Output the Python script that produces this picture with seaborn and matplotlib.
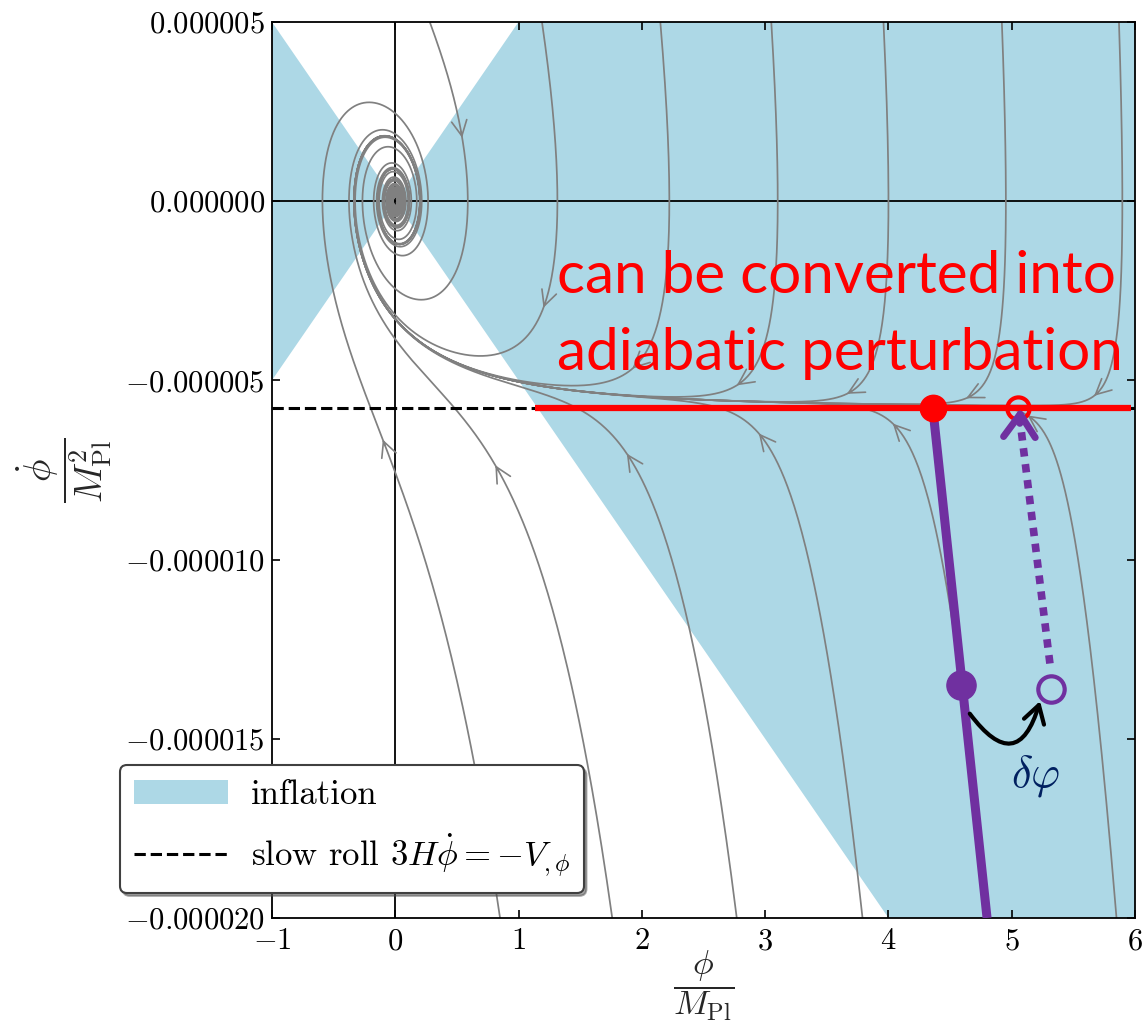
import numpy as np
import pandas as pd
import matplotlib
matplotlib.use("Agg")
import matplotlib.pyplot as plt
from matplotlib.ticker import FuncFormatter, FixedLocator
import seaborn as sns

# Quadratic potential V = m^2 phi^2 / 2 in reduced Planck units
mass = 7.07e-6

# Phase-space window and ticks
phi_lim = (-1.0, 6.0)
dphi_lim = (-2.0e-5, 5.0e-6)
x_ticks = [-1, 0, 1, 2, 3, 4, 5, 6]
y_ticks = [-2.0e-5, -1.5e-5, -1.0e-5, -5.0e-6, 0.0, 5.0e-6]

# Initial conditions of the plotted trajectories (on the window edges)
start_phi = [0.28, 1.19, 2.15, 3.05, 3.96, 4.92, 5.87,
             0.85, 1.76, 2.77, 3.79, 4.80, 5.85]
start_dphi = [5.0e-6, 5.0e-6, 5.0e-6, 5.0e-6, 5.0e-6, 5.0e-6, 5.0e-6,
              -2.0e-5, -2.0e-5, -2.0e-5, -2.0e-5, -2.0e-5, -2.0e-5]
# Where each trajectory carries its direction arrow
arrow_phi = [0.54, 1.20, 2.05, 2.82, 3.73, 4.69, 5.71,
             -0.10, 0.85, 1.90, 2.99, 4.09, 5.17]
arrow_dphi = [1.93e-6, -2.81e-6, -4.9e-6, -5.1e-6, -5.46e-6, -5.55e-6, -5.35e-6,
              -6.86e-6, -7.5e-6, -7.17e-6, -6.58e-6, -6.24e-6, -6.05e-6]

# Perturbation sketch on top of the portrait
red_line_phi = [1.13, 5.97]
red_dot_phi = 4.36
red_ring_phi = 5.05
path_phi = [4.36, 4.80]
path_end_dphi = -2.0e-5
kicked_from = (4.59, -1.35e-5)
kicked_to = (5.32, -1.36e-5)
dotted_phi = [5.31, 5.07]
dotted_dphi = [-1.29e-5, -6.2e-6]
arc_from = (4.66, -1.43e-5)
arc_to = (5.23, -1.395e-5)
delta_label_pos = (5.19, -1.605e-5)
caption_lines = ["can be converted into", "adiabatic perturbation"]
caption_phi = 1.31
caption_dphi = [-2.56e-6, -4.71e-6]

PURPLE = "#7030A0"
RED = "#FF0000"
NAVY = "#002060"
GRAY = "#808080"

# ---- integrate the background equations  phi'' + 3 H phi' + m^2 phi = 0 ----
def rhs(x, u):
    h = np.sqrt((u * u + x * x) / 6.0)
    return u, -3.0 * h * u - x

x = np.array(start_phi, dtype=float)
u = np.array(start_dphi, dtype=float) / mass
dt = 0.004
nsteps = 22000
xs = np.empty((nsteps + 1, x.size))
us = np.empty((nsteps + 1, x.size))
xs[0], us[0] = x, u
for k in range(nsteps):
    k1x, k1u = rhs(x, u)
    k2x, k2u = rhs(x + 0.5 * dt * k1x, u + 0.5 * dt * k1u)
    k3x, k3u = rhs(x + 0.5 * dt * k2x, u + 0.5 * dt * k2u)
    k4x, k4u = rhs(x + dt * k3x, u + dt * k3u)
    x = x + dt / 6.0 * (k1x + 2 * k2x + 2 * k3x + k4x)
    u = u + dt / 6.0 * (k1u + 2 * k2u + 2 * k3u + k4u)
    xs[k + 1], us[k + 1] = x, u
ys = us * mass

frames = []
for j in range(x.size):
    frames.append(pd.DataFrame({"phi": xs[::2, j], "dphi": ys[::2, j], "traj": j}))
traj_df = pd.concat(frames, ignore_index=True)

# ---- style ----
sns.set_theme(style="ticks")
plt.rcParams.update({
    "font.family": ["cmr10", "DejaVu Sans"],
    "mathtext.fontset": "cm",
    "axes.unicode_minus": False,
    "axes.edgecolor": "black",
    "axes.linewidth": 1.3,
    "text.color": "black",
    "xtick.color": "black",
    "ytick.color": "black",
    "xtick.direction": "in",
    "ytick.direction": "in",
    "xtick.top": True,
    "ytick.right": True,
    "xtick.major.size": 6,
    "ytick.major.size": 6,
    "xtick.major.width": 1.2,
    "ytick.major.width": 1.2,
    "xtick.major.pad": 7,
    "ytick.major.pad": 5,
})

fig = plt.figure(figsize=(11.46, 10.26), dpi=100)
ax = fig.add_axes([0.2373, 0.1053, 0.7531, 0.8733])

# inflating region: phidot^2 < V
x_fill = np.array([phi_lim[0], 0.0, phi_lim[1]])
bound = mass / np.sqrt(2.0) * np.abs(x_fill)
ax.fill_between(x_fill, -bound, bound, color="lightblue", lw=0, zorder=0.5,
                label="inflation")

ax.axhline(0.0, color="black", lw=1.3, zorder=1)
ax.axvline(0.0, color="black", lw=1.3, zorder=1)

sns.lineplot(data=traj_df, x="phi", y="dphi", units="traj", estimator=None,
             sort=False, color=GRAY, lw=1.25, legend=False, ax=ax, zorder=2)

# direction arrows along the trajectories
span_x = phi_lim[1] - phi_lim[0]
span_y = dphi_lim[1] - dphi_lim[0]
for j in range(len(start_phi)):
    px, py = xs[:, j], ys[:, j]
    d = np.hypot((px - arrow_phi[j]) / span_x, (py - arrow_dphi[j]) / span_y)
    i = int(np.argmin(d))
    step = np.hypot((px[i:] - px[i]) / span_x, (py[i:] - py[i]) / span_y)
    k = i + int(np.argmax(step > 0.006))
    ax.annotate("", xy=(px[k], py[k]), xytext=(px[i], py[i]),
                arrowprops=dict(arrowstyle="->,head_length=0.5,head_width=0.25",
                                color=GRAY, lw=1.2, mutation_scale=22,
                                shrinkA=0, shrinkB=0), zorder=2)

slow_roll = -mass * np.sqrt(2.0 / 3.0)
ax.axhline(slow_roll, color="black", ls="--", lw=2.2, zorder=3,
           label=r"slow roll $3H\dot{\phi} = -V_{,\phi}$")

# ---- perturbation sketch ----
ax.plot(red_line_phi, [slow_roll, slow_roll], color=RED, lw=4.5,
        solid_capstyle="butt", zorder=5)
ax.plot(path_phi, [slow_roll, path_end_dphi], color=PURPLE, lw=6.5,
        solid_capstyle="butt", zorder=5)
ax.plot([red_dot_phi], [slow_roll], "o", color=RED, ms=19, zorder=6)
ax.plot([red_ring_phi], [slow_roll], "o", mfc="none", mec=RED, mew=3,
        ms=16, zorder=6)
ax.plot([kicked_from[0]], [kicked_from[1]], "o", color=PURPLE, ms=21, zorder=6)
ax.plot([kicked_to[0]], [kicked_to[1]], "o", mfc="none", mec=PURPLE, mew=3,
        ms=19, zorder=6)
ax.plot(dotted_phi, dotted_dphi, color=PURPLE, lw=5.5,
        dashes=(1.1, 1.0), dash_capstyle="butt", zorder=6)
ax.annotate("", xy=(dotted_phi[1], slow_roll), xytext=(dotted_phi[1] - 0.004, dotted_dphi[1]),
            arrowprops=dict(arrowstyle="->,head_length=0.55,head_width=0.38",
                            color=PURPLE, lw=5, mutation_scale=30,
                            shrinkA=0, shrinkB=0, capstyle="round",
                            joinstyle="round"), zorder=7)
ax.annotate("", xy=arc_to, xytext=arc_from,
            arrowprops=dict(arrowstyle="->,head_length=0.5,head_width=0.3",
                            color="black", lw=3, mutation_scale=25,
                            connectionstyle="arc3,rad=1.0",
                            shrinkA=0, shrinkB=0), zorder=7)
ax.text(delta_label_pos[0], delta_label_pos[1], r"$\delta\varphi$",
        color=NAVY, fontsize=32, ha="center", va="center", zorder=7)

for line, yv in zip(caption_lines, caption_dphi):
    ax.text(caption_phi, yv, line, color=RED, fontsize=42, family="Lato",
            ha="left", va="baseline", zorder=8)

# ---- axes ----
ax.set_xlim(*phi_lim)
ax.set_ylim(*dphi_lim)
ax.xaxis.set_major_locator(FixedLocator(x_ticks))
ax.yaxis.set_major_locator(FixedLocator(y_ticks))
ax.xaxis.set_major_formatter(FuncFormatter(lambda v, p: rf"${v:g}$"))
ax.yaxis.set_major_formatter(FuncFormatter(lambda v, p: rf"${v:.6f}$"))
ax.tick_params(labelsize=22)
ax.set_xlabel(r"$\dfrac{\phi}{M_{\mathrm{Pl}}}$", fontsize=25, labelpad=-5)
ax.set_ylabel(r"$\dfrac{\dot{\phi}}{M_{\mathrm{Pl}}^2}$", fontsize=27, labelpad=8)

leg = ax.legend(loc="lower left", bbox_to_anchor=(0.1047, 0.1296),
                bbox_transform=fig.transFigure, borderaxespad=0,
                fancybox=True, shadow=True, framealpha=1, edgecolor="0.25",
                fontsize=25, handlelength=2.7, handletextpad=0.66,
                borderpad=0.4, labelspacing=0.6)
leg.get_frame().set_linewidth(1.5)
leg.set_zorder(10)

fig.savefig("out.png", dpi=100)
